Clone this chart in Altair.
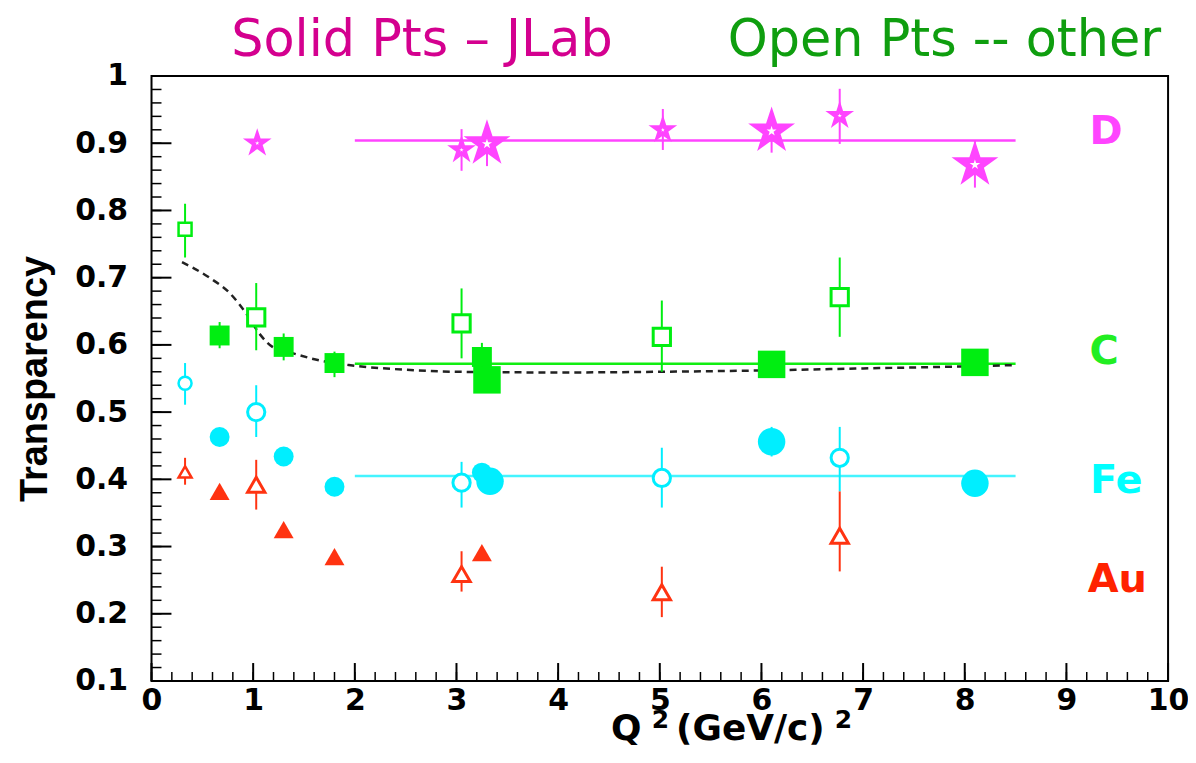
import altair as alt
import pandas as pd

# ---------------- data ----------------
nuclei = ["D", "C", "Fe", "Au"]
point_colors = ["#ff44ff", "#00ee11", "#00eeff", "#ff3311"]
STAR = ("M0,-1L0.2245,-0.309L0.951,-0.309L0.363,0.118L0.588,0.809L0,0.382"
        "L-0.588,0.809L-0.363,0.118L-0.951,-0.309L-0.2245,-0.309Z")
shapes = [STAR, "square", "circle", "triangle-up"]

# open points, low-Q2 experiment
openA_nuc = ["C", "Fe", "Au"]
openA_q2 = [0.33, 0.33, 0.33]
openA_t = [0.772, 0.543, 0.411]
openA_lo = [0.730, 0.511, 0.392]
openA_hi = [0.810, 0.573, 0.432]

# open points, other experiment
openB_nuc = ["D", "D", "D", "D",
             "C", "C", "C", "C",
             "Fe", "Fe", "Fe", "Fe",
             "Au", "Au", "Au", "Au"]
openB_q2 = [1.04, 3.05, 5.03, 6.77,
            1.03, 3.05, 5.02, 6.77,
            1.03, 3.05, 5.02, 6.77,
            1.03, 3.05, 5.02, 6.77]
openB_t = [0.900, 0.890, 0.920, 0.941,
           0.641, 0.632, 0.612, 0.671,
           0.500, 0.395, 0.402, 0.432,
           0.392, 0.259, 0.232, 0.316]
openB_lo = [0.900, 0.859, 0.890, 0.899,
            0.592, 0.580, 0.560, 0.612,
            0.463, 0.358, 0.358, 0.382,
            0.355, 0.233, 0.195, 0.263]
openB_hi = [0.900, 0.921, 0.951, 0.981,
            0.692, 0.684, 0.666, 0.730,
            0.540, 0.426, 0.447, 0.478,
            0.429, 0.293, 0.270, 0.382]

# solid points (JLab), first data set
solidS_nuc = ["C", "C", "C", "C",
              "Fe", "Fe", "Fe", "Fe",
              "Au", "Au", "Au", "Au"]
solidS_q2 = [0.67, 1.30, 1.80, 3.25,
             0.67, 1.30, 1.80, 3.25,
             0.67, 1.30, 1.80, 3.25]
solidS_t = [0.614, 0.597, 0.573, 0.582,
            0.463, 0.434, 0.389, 0.410,
            0.382, 0.325, 0.285, 0.291]
solidS_lo = [0.595, 0.577, 0.552, 0.565,
             0.455, 0.426, 0.382, 0.402,
             0.375, 0.318, 0.278, 0.284]
solidS_hi = [0.634, 0.617, 0.590, 0.603,
             0.471, 0.442, 0.396, 0.418,
             0.389, 0.332, 0.292, 0.298]

# solid points (JLab), second data set
solidB_nuc = ["D", "D", "D", "C", "C", "C", "Fe", "Fe", "Fe"]
solidB_q2 = [3.30, 6.10, 8.10, 3.30, 6.10, 8.10, 3.33, 6.10, 8.10]
solidB_t = [0.899, 0.918, 0.868, 0.548, 0.571, 0.574, 0.397, 0.456, 0.394]
solidB_lo = [0.866, 0.886, 0.834, 0.535, 0.560, 0.563, 0.390, 0.434, 0.385]
solidB_hi = [0.929, 0.948, 0.904, 0.561, 0.582, 0.585, 0.405, 0.478, 0.403]

# constant fits
fit_t = [0.904, 0.572, 0.405]
fit_from = [2.0, 2.0, 2.0]
fit_to = [8.5, 8.5, 8.5]
fit_colors = ["#ff44ff", "#11ee11", "#44f4ff"]

# calculation curve (dashed)
curve_q2 = [0.30, 0.57, 0.77, 0.93, 1.06, 1.19, 1.38, 1.65, 1.94, 2.5, 3.0,
            4.0, 5.0, 6.0, 7.0, 8.0, 8.5]
curve_t = [0.723, 0.700, 0.677, 0.647, 0.617, 0.597, 0.588, 0.577, 0.570,
           0.563, 0.560, 0.559, 0.560, 0.562, 0.565, 0.568, 0.570]

# nucleus labels
lab_text = ["D", "C", "Fe", "Au"]
lab_q2 = [9.39, 9.37, 9.49, 9.50]
lab_t = [0.899, 0.571, 0.380, 0.232]
lab_colors = ["#ff44ff", "#22ee22", "#00ffff", "#ff2200"]

# header texts
head_text = ["Solid Pts \u2013 JLab", "Open Pts -- other"]
head_q2 = [2.66, 7.80]
head_t = [1.030, 1.030]
head_colors = ["#d4008f", "#0f9e0f"]

# x-axis title pieces: Q^2 (GeV/c)^2
xt_text = ["Q", "(GeV/c)"]
xt_q2 = [4.52, 5.16]
xt_t = [0.0125, 0.0125]
xs_text = ["2", "2"]
xs_q2 = [4.92, 6.72]
xs_t = [0.030, 0.030]

# axis ticks
y_major = [0.1, 0.2, 0.3, 0.4, 0.5, 0.6, 0.7, 0.8, 0.9, 1.0]
y_minor = [round(0.1 + 0.02 * i, 2) for i in range(46)]
x_major = [0, 1, 2, 3, 4, 5, 6, 7, 8, 9, 10]
x_minor = [round(0.2 * i, 1) for i in range(51)]

W, H = 1020, 607

# ---------------- build ----------------
def frame(nuc, q2, t, lo, hi):
    return pd.DataFrame({"nuc": nuc, "q2": q2, "t": t, "lo": lo, "hi": hi})

dA = frame(openA_nuc, openA_q2, openA_t, openA_lo, openA_hi)
dB = frame(openB_nuc, openB_q2, openB_t, openB_lo, openB_hi)
dS = frame(solidS_nuc, solidS_q2, solidS_t, solidS_lo, solidS_hi)
dL = frame(solidB_nuc, solidB_q2, solidB_t, solidB_lo, solidB_hi)
allpts = pd.concat([dA, dB, dS, dL], ignore_index=True)

xs = alt.Scale(domain=[0, 10], nice=False, zero=False)
ys = alt.Scale(domain=[0.1, 1.0], nice=False, zero=False)
col = alt.Color("nuc:N", scale=alt.Scale(domain=nuclei, range=point_colors), legend=None)
shp = alt.Shape("nuc:N", scale=alt.Scale(domain=nuclei, range=shapes), legend=None)

yaxis = alt.Axis(values=y_major, labelExpr="datum.value == 1 ? '1' : format(datum.value, '.1f')",
                 ticks=False, grid=False, domain=False,
                 labelFont="DejaVu Sans", labelFontWeight="bold", labelFontSize=30,
                 labelColor="black", labelPadding=24,
                 title="Transparency", titleFont="Liberation Sans", titleFontWeight="bold",
                 titleFontSize=38, titleColor="black", titlePadding=20)
xaxis = alt.Axis(values=x_major, format="d", ticks=False, grid=False, domain=False,
                 labelFont="DejaVu Sans", labelFontWeight="bold", labelFontSize=30,
                 labelColor="black", labelPadding=5, labelFlush=False, title=None)


def X(f):
    return alt.X(f, type="quantitative", scale=xs, axis=xaxis)


def Y(f):
    return alt.Y(f, type="quantitative", scale=ys, axis=yaxis)


ytick_df = pd.DataFrame({"v": y_minor})
ytick_major_df = pd.DataFrame({"v": y_major})
xtick_df = pd.DataFrame({"v": x_minor})
xtick_major_df = pd.DataFrame({"v": x_major})

ytm = alt.Chart(ytick_df).mark_rule(color="black", strokeWidth=1.5).encode(
    y=Y("v"), x=alt.value(0), x2=alt.value(10))
ytM = alt.Chart(ytick_major_df).mark_rule(color="black", strokeWidth=2).encode(
    y=Y("v"), x=alt.value(0), x2=alt.value(20))
xtm = alt.Chart(xtick_df).mark_rule(color="black", strokeWidth=1.5).encode(
    x=X("v"), y=alt.value(H), y2=alt.value(H - 9))
xtM = alt.Chart(xtick_major_df).mark_rule(color="black", strokeWidth=2).encode(
    x=X("v"), y=alt.value(H), y2=alt.value(H - 18))

fit_df = pd.DataFrame({"t": fit_t, "a": fit_from, "b": fit_to, "c": fit_colors})
fits = alt.Chart(fit_df).mark_rule(strokeWidth=2.5).encode(
    x=X("a"), x2="b", y=Y("t"),
    color=alt.Color("c:N", scale=None, legend=None))

curve_df = pd.DataFrame({"q2": curve_q2, "t": curve_t})
curve = alt.Chart(curve_df).mark_line(color="#222222", strokeWidth=2.5,
                                      strokeDash=[7, 5], interpolate="monotone").encode(
    x=X("q2"), y=Y("t"))

errs = alt.Chart(allpts).mark_rule(strokeWidth=2).encode(
    x=X("q2"), y=Y("lo"), y2="hi", color=col)

ptsA = alt.Chart(dA).mark_point(filled=False, fill="white", strokeWidth=2.5, size=170,
                                opacity=1).encode(x=X("q2"), y=Y("t"), color=col, shape=shp)
ptsB = alt.Chart(dB).transform_filter("datum.nuc != 'D'").mark_point(
    filled=False, fill="white", strokeWidth=3, size=300, opacity=1).encode(
    x=X("q2"), y=Y("t"), color=col, shape=shp)
ptsBD = alt.Chart(dB).transform_filter("datum.nuc == 'D'").mark_point(
    filled=False, fill="white", strokeWidth=4, size=300, opacity=1).encode(
    x=X("q2"), y=Y("t"), color=col, shape=shp)
ptsS = alt.Chart(dS).mark_point(filled=True, size=400, opacity=1).encode(
    x=X("q2"), y=Y("t"), color=col, shape=shp)
ptsL = alt.Chart(dL).transform_filter("datum.nuc != 'D'").mark_point(
    filled=True, size=760, opacity=1).encode(x=X("q2"), y=Y("t"), color=col, shape=shp)
ptsLD = alt.Chart(dL).transform_filter("datum.nuc == 'D'").mark_point(
    filled=False, fill="white", strokeWidth=6, size=900, opacity=1).encode(
    x=X("q2"), y=Y("t"), color=col, shape=shp)

lab_df = pd.DataFrame({"txt": lab_text, "q2": lab_q2, "t": lab_t, "c": lab_colors})
labels = alt.Chart(lab_df).mark_text(font="DejaVu Sans", fontWeight="bold", fontSize=40,
                                     align="center", baseline="alphabetic").encode(
    x=X("q2"), y=Y("t"), text="txt:N",
    color=alt.Color("c:N", scale=None, legend=None))

head_df = pd.DataFrame({"txt": head_text, "q2": head_q2, "t": head_t, "c": head_colors})
heads = alt.Chart(head_df).mark_text(font="DejaVu Sans", fontSize=51, align="center",
                                     baseline="alphabetic").encode(
    x=X("q2"), y=Y("t"), text="txt:N",
    color=alt.Color("c:N", scale=None, legend=None))

xt_df = pd.DataFrame({"txt": xt_text, "q2": xt_q2, "t": xt_t})
xtitle = alt.Chart(xt_df).mark_text(font="DejaVu Sans", fontWeight="bold", fontSize=36,
                                    align="left", baseline="alphabetic", color="black").encode(
    x=X("q2"), y=Y("t"), text="txt:N")
xs_df = pd.DataFrame({"txt": xs_text, "q2": xs_q2, "t": xs_t})
xsup = alt.Chart(xs_df).mark_text(font="DejaVu Sans", fontWeight="bold", fontSize=25,
                                  align="left", baseline="alphabetic", color="black").encode(
    x=X("q2"), y=Y("t"), text="txt:N")

chart = alt.layer(ytm, ytM, xtm, xtM, fits, curve, errs, ptsA, ptsB, ptsBD, ptsS, ptsL,
                  ptsLD, labels, heads, xtitle, xsup).properties(
    width=W, height=H,
    autosize=alt.AutoSizeParams(type="none"),
    padding={"left": 144, "top": 67, "right": 20, "bottom": 68},
    background="white",
).configure_view(stroke="black", strokeWidth=2)

chart.save("out.html", embed_options={"renderer": "svg", "actions": False})
